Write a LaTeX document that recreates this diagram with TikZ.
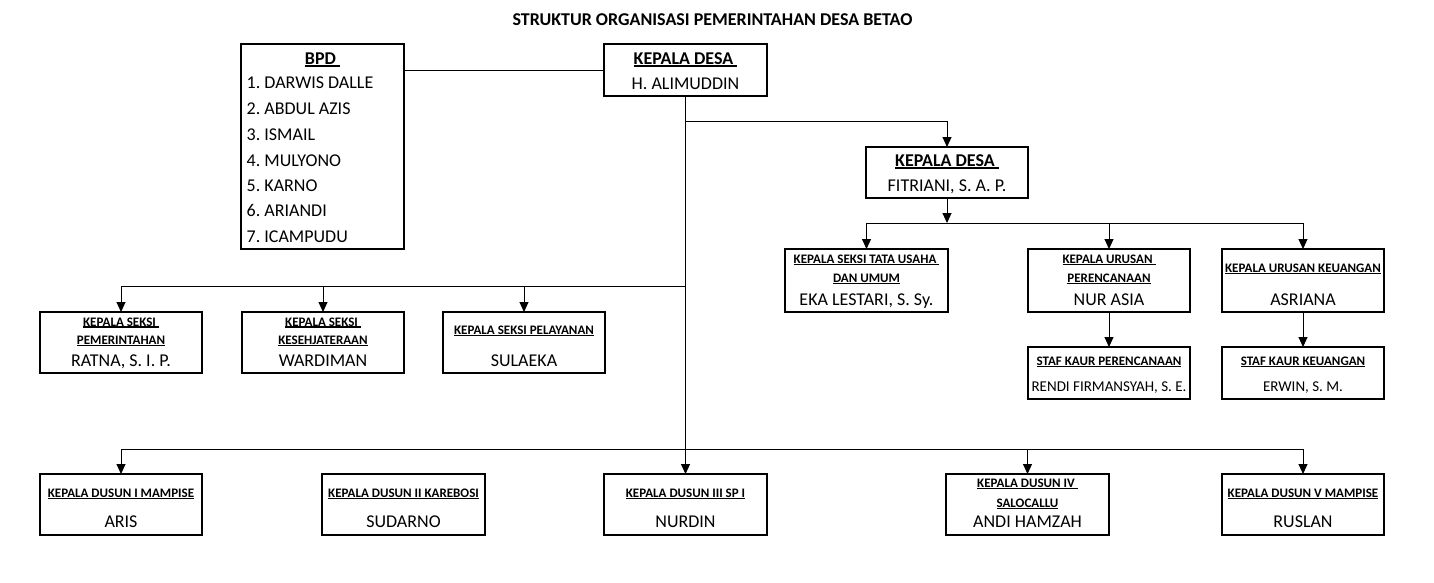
\documentclass[tikz,border=0pt]{standalone}
\usepackage{fontspec}
\setmainfont{Carlito}
\usetikzlibrary{arrows.meta}
\frenchspacing
\newcommand{\myul}[1]{\sbox0{#1}\rlap{\rule[-0.12em]{\wd0}{0.085em}}\usebox0}
\tikzset{
  orgbox/.style={draw=black, line width=2pt, inner sep=0pt, outer sep=0pt, fill=white},
  hdtext/.style={anchor=base, inner sep=0pt, font=\fontsize{13}{15}\selectfont\bfseries},
  bighd/.style={anchor=base, inner sep=0pt, font=\fontsize{18}{21}\selectfont\bfseries},
  bigtext/.style={anchor=base, inner sep=0pt, font=\fontsize{18}{21}\selectfont},
  midtext/.style={anchor=base, inner sep=0pt, font=\fontsize{15}{18}\selectfont},
  conn/.style={draw=black, line width=1pt},
  arr/.style={conn, -{Triangle[width=9pt,length=10pt]}}
}
\begin{document}
\begin{tikzpicture}[x=1pt,y=-1pt]
\useasboundingbox[fill=white] (0,0) rectangle (1434,582);

% title
\node[bighd] (title) at (712.5,25.8) {STRUKTUR ORGANISASI PEMERINTAHAN DESA BETAO};

% boxes
\node[orgbox, minimum width=163pt, minimum height=205pt] (bpd) at (322.5,146.5) {};
\node[orgbox, minimum width=163pt, minimum height=52pt] (kd) at (685.5,70) {};
\node[orgbox, minimum width=162pt, minimum height=51pt] (fit) at (947,172.5) {};
\node[orgbox, minimum width=163pt, minimum height=63pt] (tata) at (866.5,280.5) {};
\node[orgbox, minimum width=162pt, minimum height=63pt] (renc) at (1109,280.5) {};
\node[orgbox, minimum width=162pt, minimum height=63pt] (keu) at (1303,280.5) {};
\node[orgbox, minimum width=162pt, minimum height=52pt] (stafr) at (1109,373) {};
\node[orgbox, minimum width=162pt, minimum height=52pt] (stafk) at (1303,373) {};
\node[orgbox, minimum width=162pt, minimum height=61pt] (pem) at (121,342.5) {};
\node[orgbox, minimum width=162pt, minimum height=61pt] (kes) at (323,342.5) {};
\node[orgbox, minimum width=162pt, minimum height=61pt] (pel) at (524,342.5) {};
\node[orgbox, minimum width=162pt, minimum height=61pt] (d1) at (121,504.5) {};
\node[orgbox, minimum width=163pt, minimum height=61pt] (d2) at (403.5,504.5) {};
\node[orgbox, minimum width=163pt, minimum height=61pt] (d3) at (685.5,504.5) {};
\node[orgbox, minimum width=163pt, minimum height=61pt] (d4) at (1027.5,504.5) {};
\node[orgbox, minimum width=162pt, minimum height=61pt] (d5) at (1303,504.5) {};

% junction coordinates
\coordinate (j1) at (685.5,121);
\coordinate (j2) at (685.5,286);
\coordinate (j3) at (685.5,449);
\coordinate (j4) at (947,223);

% connectors
\draw[conn] (kd.west) -- (kd.west -| bpd.east);
\draw[arr] (kd.south) -- (d3.north);
\draw[arr] (j1) -| (fit.north);
\draw[arr] (fit.south) -- (j4);
\draw[arr] (j4) -| (tata.north);
\draw[arr] (j4) -| (keu.north);
\draw[arr] (j4 -| renc.north) -- (renc.north);
\draw[arr] (renc.south) -- (stafr.north);
\draw[arr] (keu.south) -- (stafk.north);
\draw[arr] (j2) -| (pem.north);
\draw[arr] (j2 -| kes.north) -- (kes.north);
\draw[arr] (j2 -| pel.north) -- (pel.north);
\draw[arr] (j3) -| (d1.north);
\draw[arr] (j3) -| (d5.north);
\draw[arr] (j3 -| d4.north) -- (d4.north);

% BPD text
\node[bighd] (bpdh) at (322.5,64.5) {\myul{BPD\ }};
\node[bigtext, anchor=base west] (b1) at (246.5,88.9) {1. DARWIS DALLE};
\node[bigtext, anchor=base west] (b2) at (246.5,114.9) {2. ABDUL AZIS};
\node[bigtext, anchor=base west] (b3) at (246.5,140.4) {3. ISMAIL};
\node[bigtext, anchor=base west] (b4) at (246.5,166.1) {4. MULYONO};
\node[bigtext, anchor=base west] (b5) at (246.5,191.5) {5. KARNO};
\node[bigtext, anchor=base west] (b6) at (246.5,216.9) {6. ARIANDI};
\node[bigtext, anchor=base west] (b7) at (246.5,242.5) {7. ICAMPUDU};

% Kepala desa
\node[bighd] (kdh) at (685.5,64.5) {\myul{KEPALA DESA\ }};
\node[bigtext] (kdn) at (685.5,89.1) {H. ALIMUDDIN};
\node[bighd] (fith) at (947,166.8) {\myul{KEPALA DESA\ }};
\node[bigtext] (fitn) at (947,191.8) {FITRIANI, S. A. P.};

% right row
\node[hdtext] (tatah1) at (866.5,263.2) {\myul{KEPALA SEKSI TATA USAHA\ }};
\node[hdtext] (tatah2) at (866.5,282.2) {\myul{DAN UMUM}};
\node[bigtext] (tatan) at (866.5,305.6) {EKA LESTARI, S. Sy.};
\node[hdtext] (rench1) at (1109,263.2) {\myul{KEPALA URUSAN\ }};
\node[hdtext] (rench2) at (1109,282.2) {\myul{PERENCANAAN}};
\node[bigtext] (rencn) at (1109,305.2) {NUR ASIA};
\node[hdtext] (keuh) at (1303,272.2) {\myul{KEPALA URUSAN KEUANGAN}};
\node[bigtext] (keun) at (1303,305.2) {ASRIANA};
\node[hdtext] (stafrh) at (1109,365.4) {\myul{STAF KAUR PERENCANAAN}};
\node[midtext] (stafrn) at (1109,391) {RENDI FIRMANSYAH, S. E.};
\node[hdtext] (stafkh) at (1303,365.4) {\myul{STAF KAUR KEUANGAN}};
\node[midtext] (stafkn) at (1303,391) {ERWIN, S. M.};

% left row
\node[hdtext] (pemh1) at (121,326) {\myul{KEPALA SEKSI\ }};
\node[hdtext] (pemh2) at (121,344.4) {\myul{PEMERINTAHAN}};
\node[bigtext] (pemn) at (121,366) {RATNA, S. I. P.};
\node[hdtext] (kesh1) at (323,326) {\myul{KEPALA SEKSI\ }};
\node[hdtext] (kesh2) at (323,344.4) {\myul{KESEHJATERAAN}};
\node[bigtext] (kesn) at (323,366) {WARDIMAN};
\node[hdtext] (pelh) at (524,334.4) {\myul{KEPALA SEKSI PELAYANAN}};
\node[bigtext] (peln) at (524,366.4) {SULAEKA};

% dusun row
\node[hdtext] (d1h) at (121,497.4) {\myul{KEPALA DUSUN I MAMPISE}};
\node[bigtext] (d1n) at (121,527.8) {ARIS};
\node[hdtext] (d2h) at (403.5,497.4) {\myul{KEPALA DUSUN II KAREBOSI}};
\node[bigtext] (d2n) at (403.5,527.8) {SUDARNO};
\node[hdtext] (d3h) at (685.5,497.4) {\myul{KEPALA DUSUN III SP I}};
\node[bigtext] (d3n) at (685.5,527.8) {NURDIN};
\node[hdtext] (d4h1) at (1027.5,487.6) {\myul{KEPALA DUSUN IV\ }};
\node[hdtext] (d4h2) at (1027.5,507.6) {\myul{SALOCALLU}};
\node[bigtext] (d4n) at (1027.5,527.8) {ANDI HAMZAH};
\node[hdtext] (d5h) at (1303,497.4) {\myul{KEPALA DUSUN V MAMPISE}};
\node[bigtext] (d5n) at (1303,527.8) {RUSLAN};
\end{tikzpicture}
\end{document}
